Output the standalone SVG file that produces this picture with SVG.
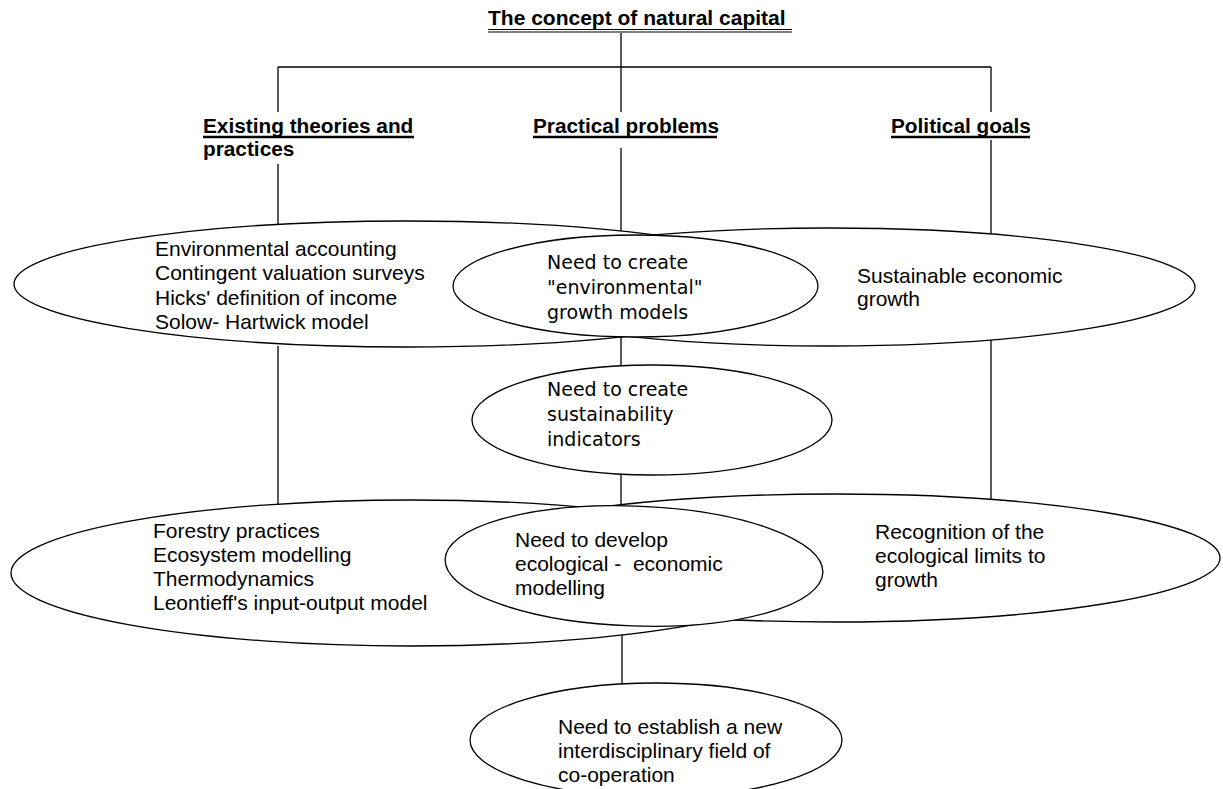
<svg xmlns="http://www.w3.org/2000/svg" width="1223" height="789" viewBox="0 0 1223 789">
<style>
.bg{fill:#fff}
.ln{stroke:#000;stroke-width:1.3;fill:none}
.ul{stroke:#000;fill:none}
.el{fill:#fff;stroke:#000;stroke-width:1.3}
.t{font-family:"Liberation Sans",Arial,sans-serif;font-size:21px;fill:#000;white-space:pre}
.h{font-family:"Liberation Sans",Arial,sans-serif;font-size:20.8px;font-weight:bold;fill:#000}
.g{font-family:"DejaVu Sans",sans-serif;font-size:19px;fill:#000}
</style>
<rect class="bg" x="0" y="0" width="1223" height="789"/>
<g id="connectors">
<line class="ln" x1="621" y1="33" x2="621" y2="112"/>
<line class="ln" x1="278" y1="67" x2="991" y2="67"/>
<line class="ln" x1="278" y1="67" x2="278" y2="112"/>
<line class="ln" x1="991" y1="67" x2="991" y2="112"/>
<line class="ln" x1="278" y1="164" x2="278" y2="228"/>
<line class="ln" x1="621" y1="148" x2="621" y2="237"/>
<line class="ln" x1="991" y1="140" x2="991" y2="236"/>
<line class="ln" x1="278" y1="346" x2="278" y2="505"/>
<line class="ln" x1="991" y1="340" x2="991" y2="499"/>
<line class="ln" x1="621" y1="336" x2="621" y2="366"/>
<line class="ln" x1="621" y1="474" x2="621" y2="508"/>
<line class="ln" x1="622" y1="622" x2="622" y2="684"/>
</g>
<g id="title">
<text class="h" x="488" y="25" style="font-size:21px">The concept of natural capital</text>
<line class="ul" x1="488" y1="29.5" x2="792" y2="29.5" stroke-width="1.2"/>
<line class="ul" x1="488" y1="32" x2="792" y2="32" stroke-width="1.2"/>
</g>
<g id="h-existing">
<text class="h" x="203" y="133">Existing theories and</text>
<line class="ul" x1="203" y1="137" x2="414" y2="137" stroke-width="2.4"/>
<text class="h" x="203" y="156">practices</text>
</g>
<g id="h-practical">
<text class="h" x="533" y="133">Practical problems</text>
<line class="ul" x1="533" y1="137" x2="717" y2="137" stroke-width="2.4"/>
</g>
<g id="h-political">
<text class="h" x="891" y="133">Political goals</text>
<line class="ul" x1="891" y1="137" x2="1030" y2="137" stroke-width="2.4"/>
</g>
<g id="n-theories-1">
<ellipse class="el" cx="407" cy="284" rx="393" ry="63"/>
</g>
<g id="n-goals-1">
<ellipse class="el" cx="829" cy="287" rx="366" ry="59"/>
</g>
<g id="n-theories-1-text">
<text class="t" x="155" y="256">Environmental accounting</text>
<text class="t" x="155" y="280">Contingent valuation surveys</text>
<text class="t" x="155" y="305">Hicks' definition of income</text>
<text class="t" x="155" y="329">Solow- Hartwick model</text>
</g>
<g id="n-goals-1-text">
<text class="t" x="857" y="283">Sustainable economic</text>
<text class="t" x="857" y="306">growth</text>
</g>
<g id="n-growth-models">
<ellipse class="el" cx="635.5" cy="286" rx="182.5" ry="51"/>
<text class="g" x="547" y="269">Need to create</text>
<text class="g" x="547" y="294">"environmental"</text>
<text class="g" x="547" y="319">growth models</text>
</g>
<g id="n-indicators">
<ellipse class="el" cx="652" cy="420" rx="180" ry="55"/>
<text class="g" x="547" y="396">Need to create</text>
<text class="g" x="547" y="421">sustainability</text>
<text class="g" x="547" y="446">indicators</text>
</g>
<g id="n-theories-2">
<ellipse class="el" cx="411" cy="573" rx="400" ry="73"/>
</g>
<g id="n-goals-2">
<ellipse class="el" cx="835" cy="558" rx="385" ry="64"/>
</g>
<g id="n-theories-2-text">
<text class="t" x="153" y="538">Forestry practices</text>
<text class="t" x="153" y="562">Ecosystem modelling</text>
<text class="t" x="153" y="586">Thermodynamics</text>
<text class="t" x="153" y="610">Leontieff's input-output model</text>
</g>
<g id="n-goals-2-text">
<text class="t" x="875" y="539">Recognition of the</text>
<text class="t" x="875" y="563">ecological limits to</text>
<text class="t" x="875" y="587">growth</text>
</g>
<g id="n-eco-modelling">
<ellipse class="el" cx="634" cy="566" rx="189" ry="60" transform="rotate(2 634 566)"/>
<text class="t" x="515" y="547">Need to develop</text>
<text class="t" x="515" y="571" xml:space="preserve">ecological -  economic</text>
<text class="t" x="515" y="595">modelling</text>
</g>
<g id="n-field">
<ellipse class="el" cx="656" cy="740" rx="186" ry="57"/>
<text class="t" x="558" y="734">Need to establish a new</text>
<text class="t" x="558" y="758">interdisciplinary field of</text>
<text class="t" x="558" y="782">co-operation</text>
</g>
</svg>
